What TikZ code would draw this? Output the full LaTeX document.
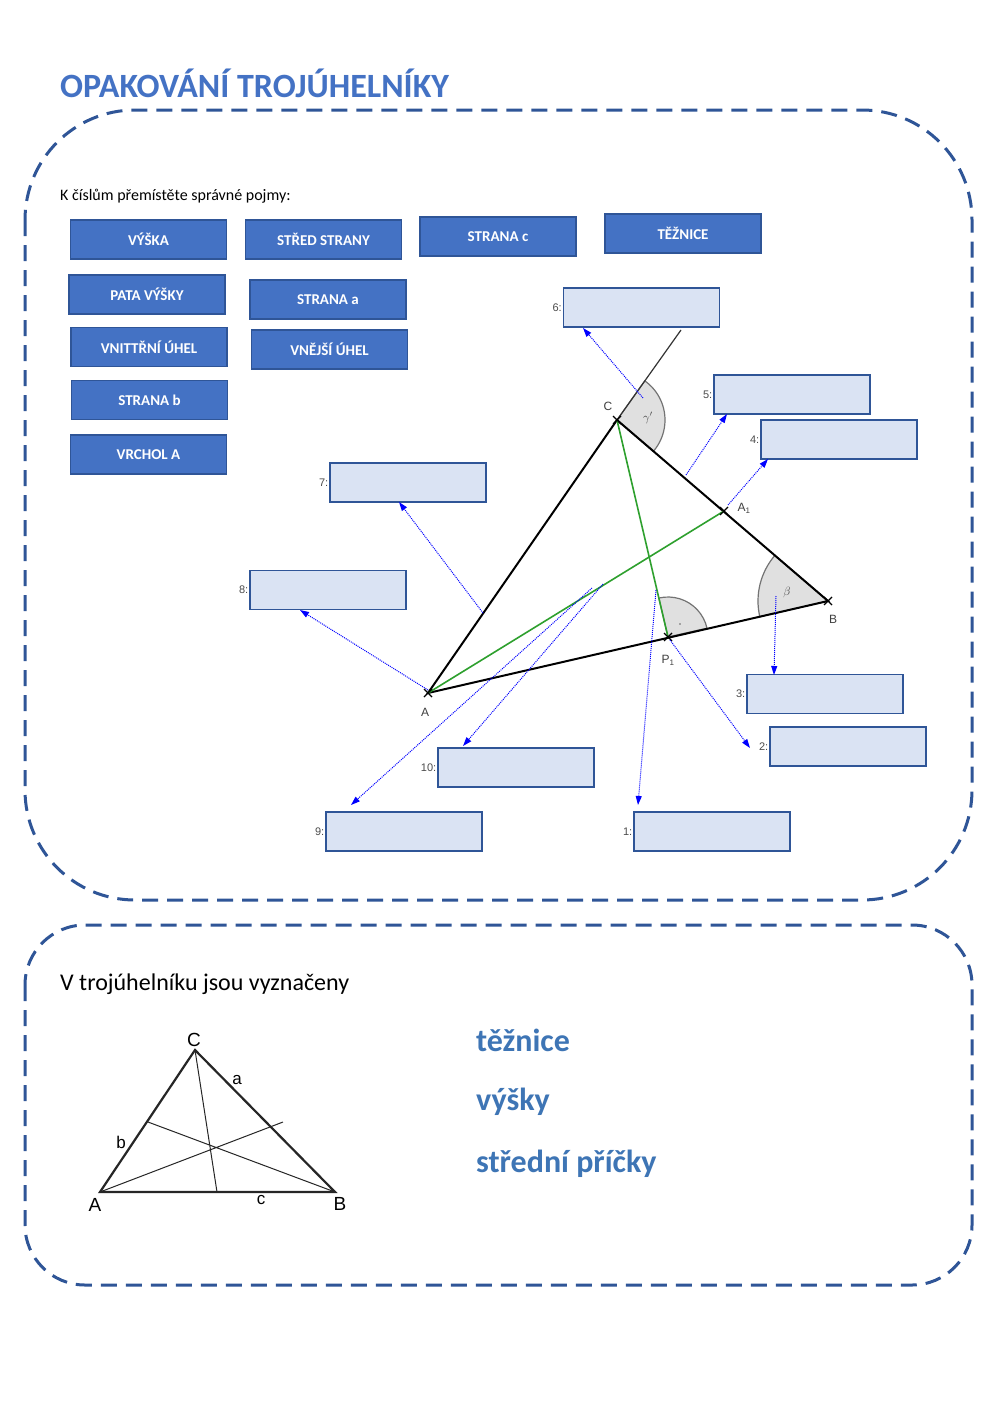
\documentclass[tikz,border=0pt]{standalone}
\usepackage{fontspec}
\setmainfont{Carlito}
\newfontfamily\lsans{Liberation Sans}
\usetikzlibrary{arrows.meta,calc}
\definecolor{btn}{HTML}{4472C4}
\definecolor{btnb}{HTML}{2F5597}
\definecolor{lbox}{HTML}{DAE3F3}
\definecolor{ttl}{HTML}{4472C4}
\definecolor{wrd}{HTML}{3E75B5}
\definecolor{grn}{HTML}{2EA02E}
\begin{document}
\begin{tikzpicture}[x=1pt,y=-1pt,
 btn/.style={draw=btnb,fill=btn,line width=1.2pt,text=white,font=\bfseries\fontsize{15}{17}\selectfont,minimum width=156pt,minimum height=39pt,inner sep=0pt},
 lb/.style={draw=btnb,fill=lbox,line width=1.2pt,minimum width=156pt,minimum height=39pt,inner sep=0pt},
 num/.style={font=\lsans\fontsize{11}{12}\selectfont,text=black!70,anchor=east,inner sep=1pt},
 dashbox/.style={draw=btnb,line width=3pt,dash pattern=on 16pt off 9pt},
 arr/.style={densely dotted,line width=1pt,-{Triangle[length=9pt,width=6pt]},blue},
 ang/.style={black!55,line width=1.2pt,fill=black!12},
 pl/.style={font=\lsans\fontsize{12}{13}\selectfont,text=black!75,inner sep=1pt},
 big/.style={font=\bfseries\fontsize{32}{36}\selectfont,text=wrd,anchor=west,inner sep=0pt}]
\useasboundingbox[fill=white] (0,0) rectangle (1000,1413);
\node[anchor=west,text=ttl,font=\bfseries\fontsize{34}{38}\selectfont,inner sep=0pt] (title) at (60,83) {OPAKOVÁNÍ TROJÚHELNÍKY};
\draw[dashbox,rounded corners=110pt] (25,110) rectangle (972,900);
\draw[dashbox,rounded corners=60pt] (25,925) rectangle (972,1285);
\node[anchor=west,inner sep=0pt,font=\fontsize{16}{18}\selectfont] (instr) at (60,196) {K číslům přemístěte správné pojmy:};
% buttons
\node[btn] (b1) at (148.5,239.5) {VÝŠKA};
\node[btn] (b2) at (323.5,239.5) {STŘED STRANY};
\node[btn] (b3) at (498,236.5) {STRANA c};
\node[btn] (b4) at (683,233.5) {TĚŽNICE};
\node[btn] (b5) at (147,294.5) {PATA VÝŠKY};
\node[btn] (b6) at (328,299.5) {STRANA a};
\node[btn] (b7) at (149,347) {VNITTŘNÍ ÚHEL};
\node[btn] (b8) at (329.5,349.5) {VNĚJŠÍ ÚHEL};
\node[btn] (b9) at (149.5,400) {STRANA b};
\node[btn] (b10) at (148.5,454.5) {VRCHOL A};
% triangle
\coordinate (A) at (428,693);
\coordinate (B) at (828,601);
\coordinate (C) at (617,420);
\coordinate (A1) at (724,511);
\coordinate (P1) at (668,637);
\coordinate (E) at (681,330);
\draw[ang] (C) -- ++(54.6:48pt) arc[start angle=54.6,end angle=-40.6,radius=48pt] -- cycle;
\draw[ang] (B) -- ++(139.4:70pt) arc[start angle=139.4,end angle=193,radius=70pt] -- cycle;
\draw[ang] (P1) -- ++(12.7:40pt) arc[start angle=12.7,end angle=103.2,radius=40pt] -- cycle;
\fill[black!60] (680,624) circle (0.8pt);
\node[pl] at (648,418) {$\gamma'$};
\node[pl] at (787,592) {$\beta$};
\draw[black!80,line width=1.2pt] (C) -- (E);
\draw[black,line width=2pt] (A) -- (B) -- (C) -- cycle;
\draw[grn,line width=1.6pt] (A) -- (A1);
\draw[grn,line width=1.6pt] (C) -- (P1);
\foreach \p in {A,B,C,A1,P1}{\draw[line width=1.2pt] ($(\p)+(-4,-4)$) -- ($(\p)+(4,4)$) ($(\p)+(-4,4)$) -- ($(\p)+(4,-4)$);}
\node[pl] at (425,712) {A};
\node[pl] at (833,619) {B};
\node[pl] at (608,406) {C};
\node[pl] at (744,508) {A\textsubscript{1}};
\node[pl] at (668,660) {P\textsubscript{1}};
% label boxes
\node[lb] (l6) at (641.5,307.5) {}; \node[num] at (l6.west) {6:};
\node[lb] (l5) at (792,394.5) {}; \node[num] at (l5.west) {5:};
\node[lb] (l4) at (839,439.5) {}; \node[num] at (l4.west) {4:};
\node[lb] (l7) at (408,482.5) {}; \node[num] at (l7.west) {7:};
\node[lb] (l8) at (328,590) {}; \node[num] at (l8.west) {8:};
\node[lb] (l3) at (825,694) {}; \node[num] at (l3.west) {3:};
\node[lb] (l2) at (848,746.5) {}; \node[num] at (l2.west) {2:};
\node[lb] (l10) at (516,767.5) {}; \node[num] at (l10.west) {10:};
\node[lb] (l9) at (404,831.5) {}; \node[num] at (l9.west) {9:};
\node[lb] (l1) at (712,831.5) {}; \node[num] at (l1.west) {1:};
% arrows
\coordinate (s6) at (643,398); \coordinate (t6) at (583,328);
\coordinate (s5) at (686,475); \coordinate (t5) at (727,414);
\coordinate (s4) at (728,505); \coordinate (t4) at (768,459);
\coordinate (s7) at (483,613); \coordinate (t7) at (399,502);
\coordinate (s8) at (428,690); \coordinate (t8) at (300,610);
\coordinate (s3) at (776,596); \coordinate (t3) at (774,675);
\coordinate (s2) at (670,640); \coordinate (t2) at (750,748);
\coordinate (s10) at (603,584); \coordinate (t10) at (463,746);
\coordinate (s9) at (592,588); \coordinate (t9) at (351,805);
\coordinate (s1) at (656,590); \coordinate (t1) at (638,805);
\foreach \i in {1,...,10}{\draw[arr] (s\i) -- (t\i);}
% bottom section
\node[anchor=west,inner sep=0pt,font=\fontsize{24}{28}\selectfont] (vt) at (60,984) {V trojúhelníku jsou vyznačeny};
\coordinate (a2) at (100,1192); \coordinate (b2) at (335,1192); \coordinate (c2) at (195,1050);
\draw[line width=1pt,black!85] (c2) -- (217,1192) (148,1122) -- (b2) (a2) -- (283,1122);
\draw[line width=2.2pt,black!85] (a2) -- (b2) -- (c2) -- cycle;
\node[font=\lsans\fontsize{19}{20}\selectfont,inner sep=0pt] at (95,1205) {A};
\node[font=\lsans\fontsize{19}{20}\selectfont,inner sep=0pt] at (340,1204) {B};
\node[font=\lsans\fontsize{19}{20}\selectfont,inner sep=0pt] at (194,1040) {C};
\node[font=\lsans\fontsize{17}{18}\selectfont,inner sep=0pt] at (237,1080) {a};
\node[font=\lsans\fontsize{17}{18}\selectfont,inner sep=0pt] at (121,1142) {b};
\node[font=\lsans\fontsize{17}{18}\selectfont,inner sep=0pt] at (261,1200) {c};
\node[big] (w1) at (476,1040) {těžnice};
\node[big] (w2) at (476,1102) {výšky};
\node[big] (w3) at (476,1164) {střední příčky};
\end{tikzpicture}
\end{document}
